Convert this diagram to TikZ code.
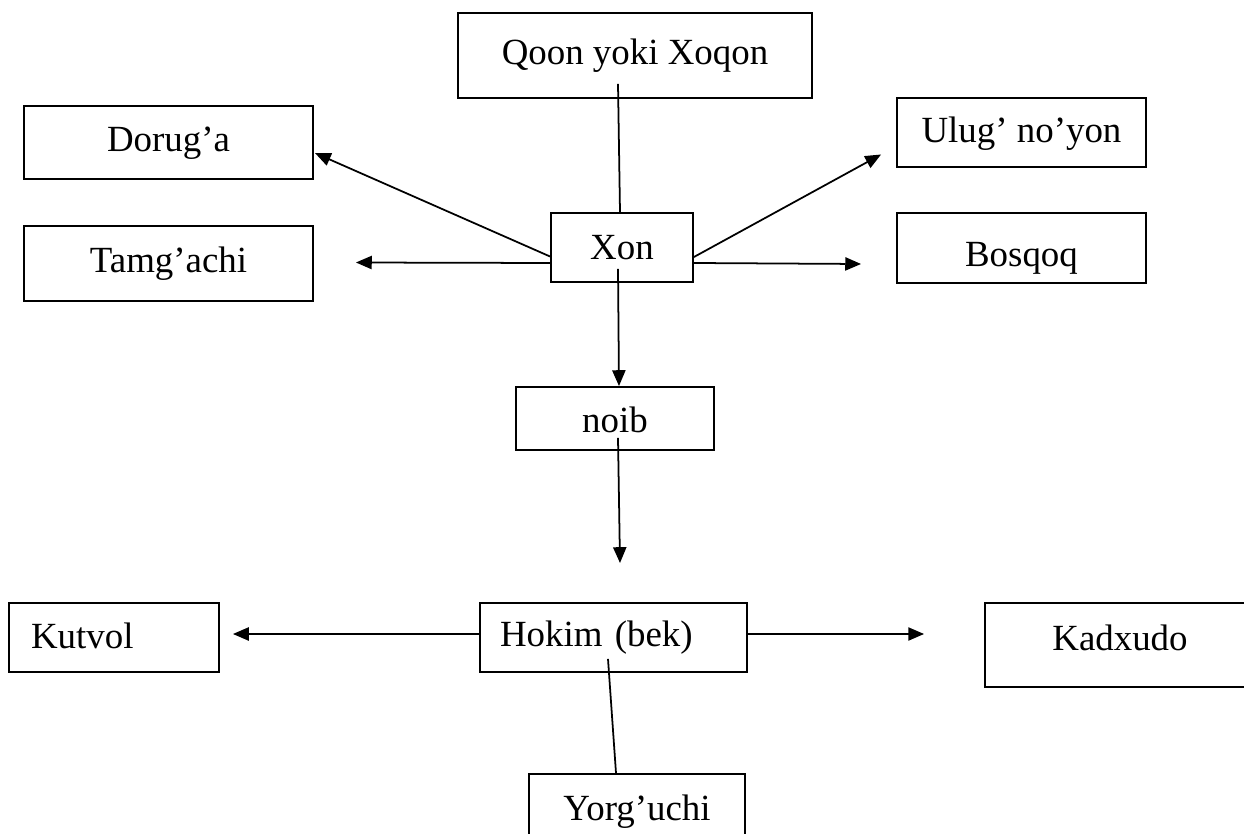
\documentclass[tikz,border=0pt]{standalone}
\usepackage{fontspec}
\setmainfont{Liberation Serif}
\usetikzlibrary{arrows.meta}

\tikzset{
	box/.style={draw, line width=1.1pt, inner sep=0pt, text height=15pt, text depth=4.6pt},
	arr/.style={line width=1pt, -{Triangle[length=9pt, width=7.5pt]}},
	link/.style={line width=1pt}
}

\begin{document}
\begin{tikzpicture}[x=0.02cm, y=-0.02cm, font=\fontsize{21}{25}\selectfont]
	
		\useasboundingbox (0,0) rectangle (1244,834);
		
		\node[box, minimum width=7.08cm, minimum height=1.70cm] (qoon) at (635,55.5) {Qoon yoki Xoqon};
		\node[box, minimum width=5.78cm, minimum height=1.46cm] (dorug) at (168.5,142.5) {Dorug’a};
		\node[box, minimum width=5.78cm, minimum height=1.50cm] (tamg) at (168.5,263.5) {Tamg’achi};
		\node[box, minimum width=4.98cm, minimum height=1.38cm, text height=16.5pt] (ulug) at (1021.5,132.5) {Ulug’ no’yon};
		\node[box, minimum width=4.98cm, minimum height=1.40cm, text height=26pt] (bosqoq) at (1021.5,248) {Bosqoq};
		\node[box, minimum width=2.84cm, minimum height=1.38cm, text height=18.8pt] (xon) at (622,247.5) {Xon};
		\node[box, minimum width=3.96cm, minimum height=1.26cm, text height=21pt] (noib) at (615,418.5) {noib};
		
		\node[box, minimum width=4.20cm, minimum height=1.38cm, text height=17pt, inner xsep=0.44cm, text width=3.32cm, align=left] (kutvol) at (114,637.5) {Kutvol};
		\node[box, minimum width=5.34cm, minimum height=1.38cm, inner xsep=0.4cm, text width=4.54cm, align=left] (hokim) at (613.5,637.5) {Hokim (bek)};
		\node[box, minimum width=5.40cm, minimum height=1.68cm, text depth=9.3pt] (kadxudo) at (1120,645) {Kadxudo};
		\node[box, minimum width=4.32cm, minimum height=1.48cm] (yorg) at (637,811) {Yorg’uchi};
		
		\coordinate (noibend) at (620,563);
		
		% top part
		\draw[link] ([shift={(-17,-15)}]qoon.south) -- ([shift={(-2,0)}]xon.north);
		\draw[arr] ([shift={(0,9)}]xon.west) -- ([shift={(1,10.5)}]dorug.east);
		\draw[arr] ([shift={(0,15.5)}]xon.west) -- ([shift={(42,-1)}]tamg.east);
		\draw[arr] ([shift={(0,9.5)}]xon.east) -- ([shift={(-15,22)}]ulug.west);
		\draw[arr] ([shift={(0,15.5)}]xon.east) -- ([shift={(-35,16)}]bosqoq.west);
		\draw[arr] ([shift={(-4,-14)}]xon.south) -- ([shift={(4,0)}]noib.north);
		\draw[arr] ([shift={(3,-13)}]noib.south) -- (noibend);
		
		% bottom part
		\draw[arr] ([shift={(0,-3.5)}]hokim.west) -- ([shift={(13,-3.5)}]kutvol.east);
		\draw[arr] ([shift={(0,-3.5)}]hokim.east) -- ([shift={(-60,-11)}]kadxudo.west);
		\draw[link] ([shift={(-5.5,-14)}]hokim.south) -- ([shift={(-21,0)}]yorg.north);
	
\end{tikzpicture}
\end{document}
